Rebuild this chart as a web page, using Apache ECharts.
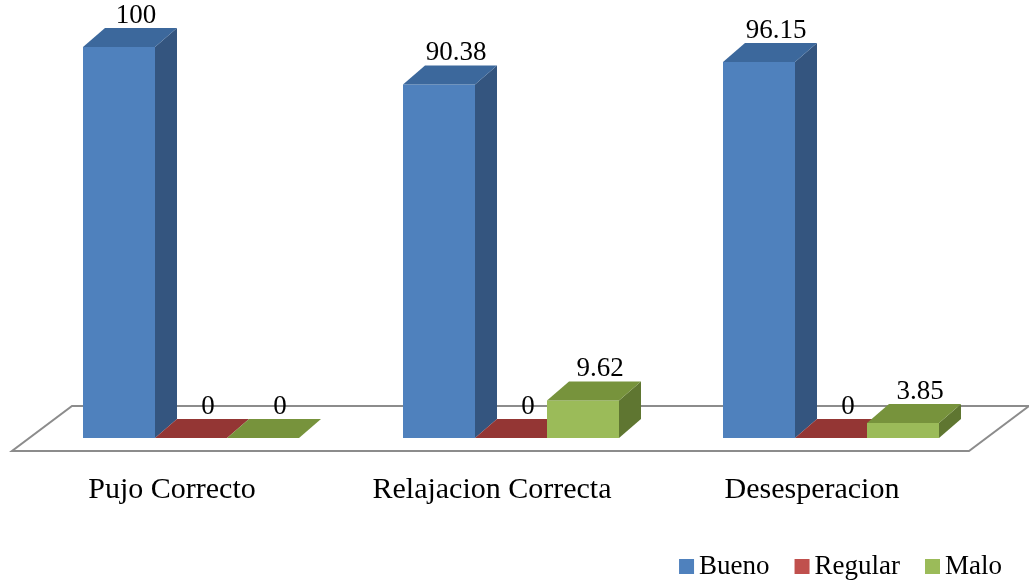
<!DOCTYPE html>
<html>
<head>
<meta charset="utf-8">
<script src="https://cdn.jsdelivr.net/npm/echarts@6/dist/echarts.min.js"></script>
<style>
  html, body { margin: 0; padding: 0; background: #ffffff; }
  #chart { width: 1029px; height: 580px; }
</style>
</head>
<body>
<div id="chart"></div>
<script>
// Categories and series values
const categories = ['Pujo Correcto', 'Relajacion Correcta', 'Desesperacion'];
const seriesNames = ['Bueno', 'Regular', 'Malo'];
const bueno = [100, 90.38, 96.15];
const regular = [0, 0, 0];
const malo = [0, 9.62, 3.85];

// Face colours per series: front, side, top
const palettes = [
  { front: '#4F81BD', side: '#34557F', top: '#3C689C' },
  { front: '#C0504D', side: '#7F302E', top: '#943634' },
  { front: '#9BBB59', side: '#5F7631', top: '#77933C' }
];

const FONT = '"Liberation Serif", "Times New Roman", serif';
const FONT_SIZE = 27;
const CAT_FONT_SIZE = 30;
const BAR_FRACTION = 0.225;   // bar width as share of category band
const DEPTH_X = 22;           // oblique depth of a bar
const DEPTH_Y = 19;
const FLOOR_X = 30;           // half-depth of the floor plate
const FLOOR_Y = 22.5;

function barRenderer(k) {
  const pal = palettes[k];
  return function (params, api) {
    const ci = api.value(0);
    const v = api.value(1);
    const base = api.coord([ci, 0]);
    const top = api.coord([ci, v]);
    const band = api.size([1, 0])[0];
    const bw = band * BAR_FRACTION;
    const x0 = base[0] - 1.5 * bw + k * bw;
    const x1 = x0 + bw;
    const yb = base[1];
    const yt = top[1];
    const children = [];
    if (yb - yt > 0.5) {
      children.push({
        type: 'rect',
        shape: { x: x0, y: yt, width: bw, height: yb - yt },
        style: { fill: pal.front }
      });
      children.push({
        type: 'polygon',
        shape: { points: [[x1, yt], [x1 + DEPTH_X, yt - DEPTH_Y], [x1 + DEPTH_X, yb - DEPTH_Y], [x1, yb]] },
        style: { fill: pal.side }
      });
    }
    children.push({
      type: 'polygon',
      shape: { points: [[x0, yt], [x1, yt], [x1 + DEPTH_X, yt - DEPTH_Y], [x0 + DEPTH_X, yt - DEPTH_Y]] },
      style: { fill: pal.top }
    });
    children.push({
      type: 'text',
      style: {
        text: String(v),
        x: x0 + bw / 2 + DEPTH_X / 2 + 6,
        y: yt - DEPTH_Y + 1,
        textAlign: 'center',
        textVerticalAlign: 'bottom',
        fill: '#000000',
        font: FONT_SIZE + 'px ' + FONT
      }
    });
    return { type: 'group', children: children };
  };
}

function floorRenderer(params, api) {
  const cs = params.coordSys;
  const y0 = api.coord([0, 0])[1];
  const midY = y0 - DEPTH_Y / 2;
  const left = cs.x + DEPTH_X / 2;
  const right = cs.x + cs.width + DEPTH_X / 2 - 3;
  return {
    type: 'polygon',
    shape: {
      points: [
        [left - FLOOR_X, midY + FLOOR_Y],
        [right - FLOOR_X, midY + FLOOR_Y],
        [right + FLOOR_X, midY - FLOOR_Y],
        [left + FLOOR_X, midY - FLOOR_Y]
      ]
    },
    style: { fill: '#ffffff', stroke: '#8C8C8C', lineWidth: 2 }
  };
}

const valueSets = [bueno, regular, malo];

const series = [{
  type: 'custom',
  name: 'floor',
  silent: true,
  renderItem: floorRenderer,
  data: [[0, 0]],
  z: 1
}];
valueSets.forEach(function (vals, k) {
  series.push({
    type: 'custom',
    name: seriesNames[k],
    renderItem: barRenderer(k),
    itemStyle: { color: palettes[k].front },
    data: vals.map(function (v, i) { return [i, v]; }),
    z: 2 + k
  });
});

const chart = echarts.init(document.getElementById('chart'), null, { renderer: 'canvas' });
chart.setOption({
  animation: false,
  backgroundColor: '#ffffff',
  grid: { left: 31, right: 38, top: 47, bottom: 142 },
  xAxis: {
    type: 'category',
    data: categories,
    axisLine: { show: false },
    axisTick: { show: false },
    splitLine: { show: false },
    axisLabel: {
      margin: 37,
      padding: [0, 38, 0, 0],
      color: '#000000',
      fontFamily: FONT,
      fontSize: CAT_FONT_SIZE
    }
  },
  yAxis: {
    type: 'value',
    min: 0,
    max: 100,
    show: false
  },
  legend: {
    data: seriesNames,
    right: 22,
    top: 548,
    icon: 'rect',
    itemWidth: 15,
    itemHeight: 15,
    itemGap: 25,
    textStyle: { color: '#000000', fontFamily: FONT, fontSize: FONT_SIZE }
  },
  series: series
});
</script>
</body>
</html>
